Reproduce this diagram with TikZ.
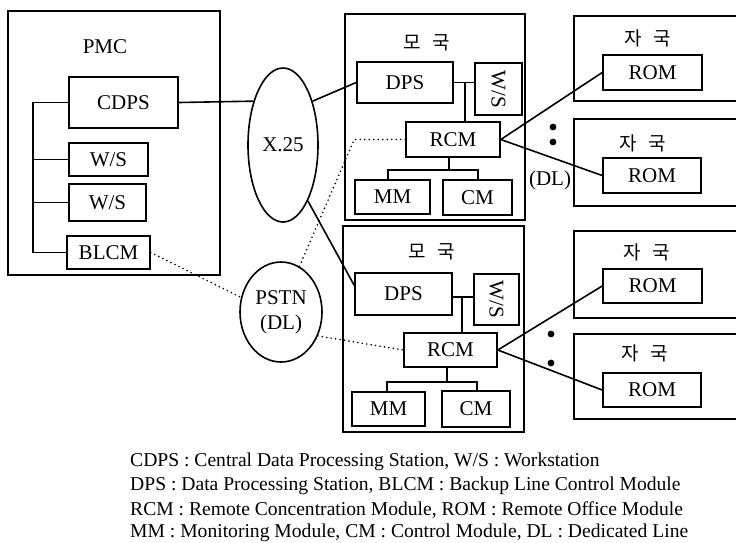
\documentclass[tikz,border=0pt]{standalone}
\usepackage{fontspec}
\setmainfont{Liberation Serif}
\newfontfamily\kr{Noto Sans CJK KR}
\usetikzlibrary{shapes.geometric}
\begin{document}
\begin{tikzpicture}[x=1pt,y=-1pt,
  bx/.style={draw, line width=1.6pt, inner sep=0pt, font=\fontsize{21}{21}\selectfont},
  frame/.style={draw, line width=1.6pt, inner sep=0pt},
  lbl/.style={inner sep=0pt, font=\fontsize{21}{21}\selectfont},
  krl/.style={inner sep=0pt, font=\kr\fontsize{19}{19}\selectfont},
  ell/.style={draw, ellipse, line width=1.6pt, inner sep=0pt, font=\fontsize{21}{25}\selectfont, align=center},
  ln/.style={line width=1.6pt},
  dl/.style={line width=1.8pt, line cap=round, dash pattern=on 0pt off 4.5pt},
  legend/.style={inner sep=0pt, anchor=west, font=\fontsize{19.6}{19.6}\selectfont}]
\useasboundingbox (0,0) rectangle (736,542);
\clip (0,0) rectangle (736,542);
% PMC
\node[frame, minimum width=212, minimum height=264] (pmc) at (114,143) {};
\node[lbl] (pmcl) at (105,47) {PMC};
\node[bx, minimum width=109, minimum height=51] (cdps) at (123.5,102.5) {CDPS};
\node[bx, minimum width=79, minimum height=33] (ws1) at (108.5,159.5) {W/S};
\node[bx, minimum width=77, minimum height=37] (ws2) at (107.5,202.5) {W/S};
\node[bx, minimum width=83, minimum height=33] (blcm) at (108.5,252.5) {BLCM};
\coordinate (bt) at (33,102.5);
\draw[ln] (cdps.west) -- (bt) -- (bt |- blcm.west) -- (blcm.west);
\draw[ln] (bt |- ws1.west) -- (ws1.west);
\draw[ln] (bt |- ws2.west) -- (ws2.west);
% ellipses
\node[ell, minimum width=70, minimum height=154] (x25) at (283,145) {X.25};
\node[ell, minimum width=82, minimum height=100] (pstn) at (281,312) {PSTN\\(DL)};
% upper main station
\node[frame, minimum width=180, minimum height=206, anchor=north west] (mo1) at (344,13) {};
\node[krl] (mo1l) at (427,43) {모\hspace{0.6em}국};
\node[bx, minimum width=96, minimum height=41] (dps1) at (405,82.5) {DPS};
\node[bx, rotate=-90, minimum width=52, minimum height=47] (wsa) at (498.5,89) {W/S};
\node[bx, minimum width=94, minimum height=35] (rcm1) at (453,139.5) {RCM};
\node[bx, minimum width=75, minimum height=34] (mm1) at (392.5,197) {MM};
\node[bx, minimum width=69, minimum height=35] (cm1) at (477.5,197.5) {CM};
\draw[ln] (dps1.east) -- (dps1.east -| 475,0);
\draw[ln] (465,82.5) -- (465,122);
\draw[ln] (449,157) -- (449,170);
\draw[ln] (388,180) |- (478,170) -- (478,180);
% lower main station
\node[frame, minimum width=181, minimum height=206, anchor=north west] (mo2) at (342,225) {};
\node[krl] (mo2l) at (432,252) {모\hspace{0.6em}국};
\node[bx, minimum width=97, minimum height=42] (dps2) at (403.5,294) {DPS};
\node[bx, rotate=-90, minimum width=51, minimum height=45] (wsb) at (496.5,299.5) {W/S};
\node[bx, minimum width=93, minimum height=34] (rcm2) at (450.5,350) {RCM};
\node[bx, minimum width=73, minimum height=34] (mm2) at (388.5,409) {MM};
\node[bx, minimum width=68, minimum height=36] (cm2) at (476,409) {CM};
\draw[ln] (dps2.east |- 0,297) -- (474,297);
\draw[ln] (462,297) -- (462,333);
\draw[ln] (447,367) -- (447,382);
\draw[ln] (387,392) |- (477,382) -- (477,391);
% connections to ellipses
\draw[ln] (cdps.east) -- (x25.124);
\draw[ln] (x25.56) -- (dps1.west);
\draw[ln] (x25.294) -- (dps2.170);
\draw[dl] (rcm1.west) -- ++(-51,0) -- (pstn.68);
\draw[dl] (blcm.east) -- (pstn.160);
\draw[dl] (pstn.-33) -- (rcm2.west);
% remote stations
\node[frame, minimum width=200, minimum height=85, anchor=north west] (jaA) at (573,15) {};
\node[krl] (jaAl) at (648,38) {자\hspace{0.6em}국};
\node[bx, minimum width=99, minimum height=35] (romA) at (652.5,72.5) {ROM};
\node[frame, minimum width=200, minimum height=87, anchor=north west] (jaB) at (573,118) {};
\node[krl] (jaBl) at (643,143) {자\hspace{0.6em}국};
\node[bx, minimum width=98, minimum height=35] (romB) at (652,175.5) {ROM};
\node[frame, minimum width=200, minimum height=87, anchor=north west] (jaC) at (573,230) {};
\node[krl] (jaCl) at (647,252) {자\hspace{0.6em}국};
\node[bx, minimum width=99, minimum height=34] (romC) at (652.5,286) {ROM};
\node[frame, minimum width=200, minimum height=85, anchor=north west] (jaD) at (573,333) {};
\node[krl] (jaDl) at (645,353) {자\hspace{0.6em}국};
\node[bx, minimum width=98, minimum height=34] (romD) at (652,390) {ROM};
\draw[ln] (rcm1.east) -- (romA.west);
\draw[ln] (rcm1.east) -- (romB.west);
\draw[ln] (rcm2.east) -- (romC.west);
\draw[ln] (rcm2.east) -- (romD.west);
\fill (553,127) circle (3.4);
\fill (553,142) circle (3.4);
\fill (551,334) circle (3.4);
\fill (551,363) circle (3.4);
\node[lbl] (dll) at (550,180) {(DL)};
% legend
\node[legend] (lg1) at (130,462) {CDPS : Central Data Processing Station, W/S : Workstation};
\node[legend] (lg2) at (130,486) {DPS : Data Processing Station, BLCM : Backup Line Control Module};
\node[legend] (lg3) at (130,510) {RCM : Remote Concentration Module, ROM : Remote Office Module};
\node[legend] (lg4) at (130,533) {MM : Monitoring Module, CM : Control Module, DL : Dedicated Line};
\end{tikzpicture}
\end{document}
